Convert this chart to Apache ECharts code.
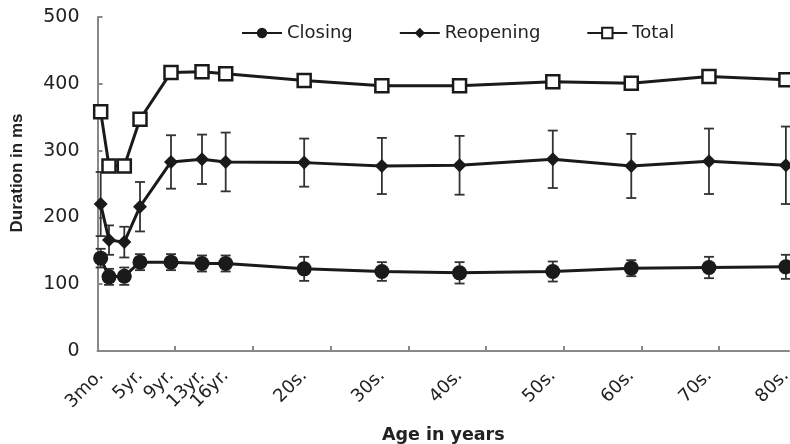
<!DOCTYPE html>
<html>
<head>
<meta charset="utf-8">
<script src="https://cdn.jsdelivr.net/npm/echarts@6/dist/echarts.min.js"></script>
<style>html,body{margin:0;padding:0;background:#fff}#c{width:790px;height:444px}</style>
</head>
<body>
<div id="c"></div>
<script>
// age position (years) of each group on the x axis
const ages = [0.41, 1.48, 3.45, 5.47, 9.46, 13.45, 16.5, 26.6, 36.6, 46.6, 58.6, 68.7, 78.7, 88.6];
// tick labels (empty = unlabeled group)
const ageLabels = ['3mo.', '', '', '5yr.', '9yr.', '13yr.', '16yr.', '20s.', '30s.', '40s.', '50s.', '60s.', '70s.', '80s.'];
const closing = [139, 111, 112, 133, 133, 131, 131, 123, 119, 117, 119, 124, 125, 126];
const closingErr = [14, 12, 13, 12, 12, 12, 12, 18, 14, 16, 15, 12, 16, 18];
const reopening = [220, 166, 163, 216, 283, 287, 283, 282, 277, 278, 287, 277, 284, 278];
const reopeningErr = [48, 22, 23, 37, 40, 37, 44, 36, 42, 44, 43, 48, 49, 58];
const total = [358, 277, 277, 347, 417, 418, 415, 405, 397, 397, 403, 401, 411, 406];
const yTicks = [0, 100, 200, 300, 400, 500];
const xTicks = [10, 20, 30, 40, 50, 60, 70, 80];

const labelAges = ages.filter((a, i) => ageLabels[i] !== '');
const labelMap = {};
ages.forEach((a, i) => { if (ageLabels[i]) labelMap[a] = ageLabels[i]; });

const pair = (vals) => vals.map((v, i) => [ages[i], v]);
const errData = (vals, errs) => vals.map((v, i) => [ages[i], v - errs[i], v + errs[i]]);

function errRender(params, api) {
  const x = api.value(0);
  const lo = api.coord([x, api.value(1)]);
  const hi = api.coord([x, api.value(2)]);
  const w = 5;
  const st = { stroke: '#333', lineWidth: 1.8 };
  return {
    type: 'group',
    children: [
      { type: 'line', shape: { x1: hi[0], y1: hi[1], x2: lo[0], y2: lo[1] }, style: st },
      { type: 'line', shape: { x1: hi[0] - w, y1: hi[1], x2: hi[0] + w, y2: hi[1] }, style: st },
      { type: 'line', shape: { x1: lo[0] - w, y1: lo[1], x2: lo[0] + w, y2: lo[1] }, style: st }
    ]
  };
}

const chart = echarts.init(document.getElementById('c'), null, { renderer: 'canvas' });
const lineCol = '#1a1a1a';
chart.setOption({
  animation: false,
  backgroundColor: '#fff',
  grid: { left: 97.5, right: 1, top: 17, bottom: 93, containLabel: false, outerBoundsMode: 'none' },
  legend: {
    top: 19, left: 236,
    itemWidth: 40, itemHeight: 13, itemGap: 46,
    textStyle: { fontFamily: 'DejaVu Sans', fontSize: 18, color: '#222' },
    data: ['Closing', 'Reopening', 'Total']
  },
  graphic: [
    { type: 'text', x: 17, y: 173, rotation: Math.PI / 2,
      style: { text: 'Duration in ms', font: 'bold 17px "Liberation Sans", Arial', fill: '#222', align: 'center', verticalAlign: 'middle' } }
  ],
  xAxis: {
    type: 'value', min: 0, max: 89, interval: 10,
    name: 'Age in years', nameLocation: 'middle', nameGap: 75,
    nameTextStyle: { fontFamily: 'DejaVu Sans', fontWeight: 'bold', fontSize: 17.5, color: '#222' },
    axisLine: { show: true, lineStyle: { color: '#888', width: 2 } },
    axisTick: { show: true, inside: true, length: 5, customValues: xTicks, lineStyle: { color: '#888', width: 2 } },
    splitLine: { show: false },
    axisLabel: {
      customValues: labelAges, rotate: 45, margin: 22,
      fontFamily: 'DejaVu Sans', fontSize: 18, color: '#222',
      formatter: (v) => labelMap[v] || ''
    }
  },
  yAxis: {
    type: 'value', min: 0, max: 500, interval: 100,
    axisLine: { show: true, lineStyle: { color: '#888', width: 2 } },
    axisTick: { show: true, inside: true, length: 5, lineStyle: { color: '#888', width: 2 } },
    splitLine: { show: false },
    axisLabel: { margin: 18, fontFamily: 'DejaVu Sans', fontSize: 19, color: '#222',
      formatter: (v) => yTicks.includes(v) ? String(v) : '' }
  },
  series: [
    { type: 'custom', name: 'closingErr', renderItem: errRender, data: errData(closing, closingErr), z: 1, silent: true },
    { type: 'custom', name: 'reopeningErr', renderItem: errRender, data: errData(reopening, reopeningErr), z: 1, silent: true },
    { type: 'line', name: 'Closing', data: pair(closing), symbol: 'circle', symbolSize: 15,
      lineStyle: { color: lineCol, width: 3 }, itemStyle: { color: lineCol, borderWidth: 0 }, z: 3 },
    { type: 'line', name: 'Reopening', data: pair(reopening), symbol: 'diamond', symbolSize: 14,
      lineStyle: { color: lineCol, width: 3 }, itemStyle: { color: lineCol, borderWidth: 0 }, z: 3 },
    { type: 'line', name: 'Total', data: pair(total), symbol: 'rect', symbolSize: 13,
      lineStyle: { color: lineCol, width: 3 }, itemStyle: { color: '#fff', borderColor: lineCol, borderWidth: 2.5 }, z: 3 }
  ]
});
</script>
</body>
</html>
